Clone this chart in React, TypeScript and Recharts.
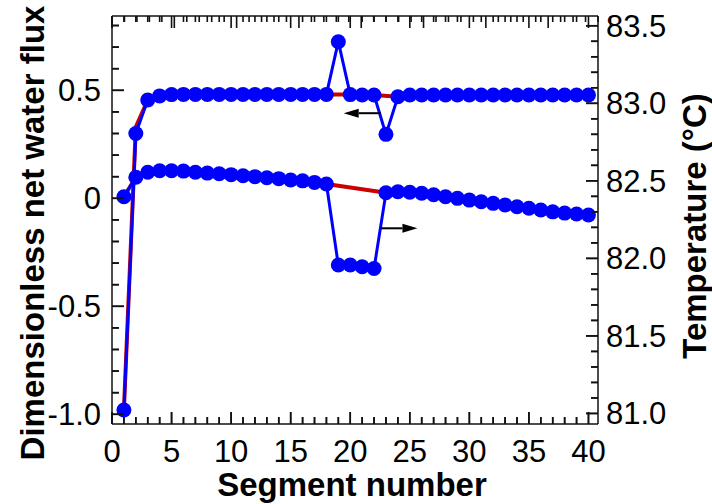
import React from 'react';
import { LineChart, Line, XAxis, YAxis, ReferenceLine } from 'recharts';

// segment numbers along the channel
const segments = [
  1, 2, 3, 4, 5, 6, 7, 8, 9, 10, 11, 12, 13, 14, 15, 16, 17, 18, 19, 20,
  21, 22, 23, 24, 25, 26, 27, 28, 29, 30, 31, 32, 33, 34, 35, 36, 37, 38, 39, 40,
];

// dimensionless net water flux (left axis)
const fluxMeasured = [
  -0.98, 0.3, 0.455, 0.474, 0.48, 0.481, 0.481, 0.481, 0.481, 0.481,
  0.481, 0.481, 0.481, 0.481, 0.481, 0.481, 0.481, 0.481, 0.725, 0.48,
  0.478, 0.478, 0.296, 0.47, 0.478, 0.478, 0.478, 0.478, 0.478, 0.478,
  0.478, 0.478, 0.478, 0.478, 0.478, 0.478, 0.478, 0.478, 0.478, 0.478,
];
const fluxModel: (number | null)[] = [
  -0.98, 0.33, 0.455, 0.474, 0.48, 0.481, 0.481, 0.481, 0.481, 0.481,
  0.481, 0.481, 0.481, 0.481, 0.481, 0.481, 0.481, 0.481, null, 0.48,
  0.478, 0.478, null, 0.47, 0.478, 0.478, 0.478, 0.478, 0.478, 0.478,
  0.478, 0.478, 0.478, 0.478, 0.478, 0.478, 0.478, 0.478, 0.478, 0.478,
];

// temperature in °C (right axis)
const tempMeasured = [
  82.397, 82.523, 82.555, 82.565, 82.565, 82.563, 82.555, 82.55, 82.546, 82.54,
  82.533, 82.527, 82.52, 82.514, 82.505, 82.5, 82.49, 82.48, 81.957, 81.957,
  81.946, 81.935, 82.423, 82.43, 82.426, 82.42, 82.41, 82.397, 82.387, 82.376,
  82.365, 82.355, 82.344, 82.333, 82.323, 82.312, 82.3, 82.292, 82.286, 82.28,
];
const tempModel: (number | null)[] = [
  82.397, 82.523, 82.555, 82.565, 82.565, 82.563, 82.555, 82.55, 82.546, 82.54,
  82.533, 82.527, 82.52, 82.514, 82.505, 82.5, 82.49, 82.48, null, null,
  null, null, 82.423, 82.43, 82.426, 82.42, 82.41, 82.397, 82.387, 82.376,
  82.365, 82.355, 82.344, 82.333, 82.323, 82.312, 82.3, 82.292, 82.286, 82.28,
];

// axis ticks: majors carry labels, the full lists give the short marks
const xMajor = [0, 5, 10, 15, 20, 25, 30, 35, 40];
const xAll = [0, 1, 2, 3, 4, 5, 6, 7, 8, 9, 10, 11, 12, 13, 14, 15, 16, 17, 18, 19, 20,
  21, 22, 23, 24, 25, 26, 27, 28, 29, 30, 31, 32, 33, 34, 35, 36, 37, 38, 39, 40];
const fluxMajor = [-1.0, -0.5, 0, 0.5];
const fluxMajorLabels = ['-1.0', '-0.5', '0', '0.5'];
const fluxAll = [-1.0, -0.9, -0.8, -0.7, -0.6, -0.5, -0.4, -0.3, -0.2, -0.1, 0,
  0.1, 0.2, 0.3, 0.4, 0.5, 0.6, 0.7, 0.8];
const tempMajor = [81.0, 81.5, 82.0, 82.5, 83.0, 83.5];
const tempAll = [81.0, 81.1, 81.2, 81.3, 81.4, 81.5, 81.6, 81.7, 81.8, 81.9, 82.0,
  82.1, 82.2, 82.3, 82.4, 82.5, 82.6, 82.7, 82.8, 82.9, 83.0, 83.1, 83.2, 83.3, 83.4, 83.5];

const data = segments.map((seg, i) => ({
  seg,
  flux: fluxMeasured[i],
  fluxFit: fluxModel[i],
  temp: tempMeasured[i],
  tempFit: tempModel[i],
}));

const X_DOMAIN: [number, number] = [0, 40.8];
const FLUX_DOMAIN: [number, number] = [-1.045, 0.844];
const TEMP_DOMAIN: [number, number] = [80.932, 83.563];

const BLUE = '#0000ff';
const RED = '#cc0000';
const INK = '#111';
const FONT = '"Liberation Sans", Arial, Helvetica, sans-serif';
const frameLine = { stroke: INK, strokeWidth: 1.5 };
const TW = 1.6; // tick mark thickness

const near = (list: number[], v: number) => list.some((m) => Math.abs(m - v) < 1e-6);

// axis ticks: filled rects for the inward marks, text for the majors
const bottomTick = (props: any) => {
  const x = Number(props.x);
  const y = Number(props.y);
  const v = Number(props.payload.value);
  const major = near(xMajor, v);
  const len = major ? 12 : 7;
  return (
    <g>
      <rect x={x - TW / 2} y={y - len} width={TW} height={len} fill={INK} />
      {major && (
        <text x={x} y={y + 38} textAnchor="middle" fontSize={31} fontFamily={FONT} fill="#000">
          {v}
        </text>
      )}
    </g>
  );
};

const topTick = (props: any) => {
  const x = Number(props.x);
  const y = Number(props.y);
  const len = near(xMajor, Number(props.payload.value)) ? 12 : 6;
  return <rect x={x - TW / 2} y={y} width={TW} height={len} fill={INK} />;
};

const leftTick = (props: any) => {
  const x = Number(props.x);
  const y = Number(props.y);
  const v = Number(props.payload.value);
  const idx = fluxMajor.findIndex((m) => Math.abs(m - v) < 1e-6);
  const len = idx >= 0 ? 12 : 7;
  return (
    <g>
      <rect x={x} y={y - TW / 2} width={len} height={TW} fill={INK} />
      {idx >= 0 && (
        <text x={x - 11} y={y + 11} textAnchor="end" fontSize={31} fontFamily={FONT} fill="#000">
          {fluxMajorLabels[idx]}
        </text>
      )}
    </g>
  );
};

const rightTick = (props: any) => {
  const x = Number(props.x);
  const y = Number(props.y);
  const v = Number(props.payload.value);
  const major = near(tempMajor, v);
  const len = major ? 12 : 7;
  return (
    <g>
      <rect x={x - len} y={y - TW / 2} width={len} height={TW} fill={INK} />
      {major && (
        <text x={x + 8} y={y + 11} textAnchor="start" fontSize={31} fontFamily={FONT} fill="#000">
          {v.toFixed(1)}
        </text>
      )}
    </g>
  );
};

// same marks again from reference segments spanning the plot (only the ends are painted)
const xTickShape = (len: number, topLen: number) => (p: any) => {
  const x = Number(p.x1);
  const top = Math.min(Number(p.y1), Number(p.y2));
  const bottom = Math.max(Number(p.y1), Number(p.y2));
  return (
    <g>
      <rect x={x - TW / 2} y={bottom - len} width={TW} height={len} fill={INK} />
      <rect x={x - TW / 2} y={top} width={TW} height={topLen} fill={INK} />
    </g>
  );
};

const leftTickShape = (len: number) => (p: any) => {
  const left = Math.min(Number(p.x1), Number(p.x2));
  return <rect x={left} y={Number(p.y1) - TW / 2} width={len} height={TW} fill={INK} />;
};

const rightTickShape = (len: number) => (p: any) => {
  const right = Math.max(Number(p.x1), Number(p.x2));
  return <rect x={right - len} y={Number(p.y1) - TW / 2} width={len} height={TW} fill={INK} />;
};

const arrowShape = (props: any) => {
  const { x1, y1, x2, y2 } = props;
  const dir = Math.sign(x2 - x1);
  const head = 15;
  return (
    <g>
      <line x1={x1} y1={y1} x2={x2 - dir * head} y2={y2} stroke="#000" strokeWidth={2} />
      <polygon
        points={`${x2},${y2} ${x2 - dir * head},${y2 - 4.5} ${x2 - dir * head},${y2 + 4.5}`}
        fill="#000"
      />
    </g>
  );
};

const leftTitle = () => (
  <text x={44} y={233} transform="rotate(-90 44 233)" textAnchor="middle" fontSize={33}
    fontWeight="bold" fontFamily={FONT} fill="#000">
    Dimensionless net water flux
  </text>
);

const rightTitle = () => (
  <text x={706} y={226} transform="rotate(-90 706 226)" textAnchor="middle" fontSize={33}
    fontWeight="bold" fontFamily={FONT} fill="#000">
    Temperature (°C)
  </text>
);

const bottomTitle = () => (
  <text x={352} y={496} textAnchor="middle" fontSize={33} fontWeight="bold" fontFamily={FONT} fill="#000">
    Segment number
  </text>
);

export default function App() {
  return (
    <div style={{ position: 'absolute', left: 0, top: 0, width: 712, height: 504, background: '#fff' }}>
      <LineChart width={712} height={504} data={data} margin={{ top: 15, right: 0, bottom: 0, left: 0 }}>
        <XAxis
          dataKey="seg"
          type="number"
          domain={X_DOMAIN}
          allowDataOverflow
          ticks={xAll}
          interval={0}
          height={80}
          tickSize={0}
          tickMargin={0}
          tickLine={false}
          axisLine={frameLine}
          tick={bottomTick}
          label={{ content: bottomTitle }}
        />
        <XAxis
          xAxisId="top"
          orientation="top"
          type="number"
          domain={X_DOMAIN}
          allowDataOverflow
          ticks={xAll}
          interval={0}
          height={1}
          tickSize={0}
          tickMargin={0}
          tickLine={false}
          axisLine={frameLine}
          tick={topTick}
        />
        <YAxis
          yAxisId="flux"
          orientation="left"
          type="number"
          domain={FLUX_DOMAIN}
          allowDataOverflow
          ticks={fluxAll}
          interval={0}
          width={112}
          tickSize={0}
          tickMargin={0}
          tickLine={false}
          axisLine={frameLine}
          tick={leftTick}
          label={{ content: leftTitle }}
        />
        <YAxis
          yAxisId="temp"
          orientation="right"
          type="number"
          domain={TEMP_DOMAIN}
          allowDataOverflow
          ticks={tempAll}
          interval={0}
          width={114}
          tickSize={0}
          tickMargin={0}
          tickLine={false}
          axisLine={frameLine}
          tick={rightTick}
          label={{ content: rightTitle }}
        />

        {xAll.map((v) => (
          <ReferenceLine
            key={`xt-${v}`}
            yAxisId="flux"
            ifOverflow="visible"
            segment={[{ x: v, y: FLUX_DOMAIN[0] }, { x: v, y: FLUX_DOMAIN[1] }]}
            shape={xTickShape(near(xMajor, v) ? 12 : 7, near(xMajor, v) ? 12 : 6)}
          />
        ))}
        {fluxAll.map((v) => (
          <ReferenceLine
            key={`ft-${v}`}
            yAxisId="flux"
            ifOverflow="visible"
            segment={[{ x: X_DOMAIN[0], y: v }, { x: X_DOMAIN[1], y: v }]}
            shape={leftTickShape(near(fluxMajor, v) ? 12 : 7)}
          />
        ))}
        {tempAll.map((v) => (
          <ReferenceLine
            key={`tt-${v}`}
            yAxisId="temp"
            ifOverflow="visible"
            segment={[{ x: X_DOMAIN[0], y: v }, { x: X_DOMAIN[1], y: v }]}
            shape={rightTickShape(near(tempMajor, v) ? 12 : 7)}
          />
        ))}

        <Line
          yAxisId="flux"
          dataKey="fluxFit"
          stroke={RED}
          strokeWidth={4}
          dot={false}
          activeDot={false}
          connectNulls
          isAnimationActive={false}
        />
        <Line
          yAxisId="temp"
          dataKey="tempFit"
          stroke={RED}
          strokeWidth={4}
          dot={false}
          activeDot={false}
          connectNulls
          isAnimationActive={false}
        />
        <Line
          yAxisId="flux"
          dataKey="flux"
          stroke={BLUE}
          strokeWidth={3}
          dot={{ r: 7.5, fill: BLUE, stroke: BLUE, strokeWidth: 0 }}
          activeDot={false}
          isAnimationActive={false}
        />
        <Line
          yAxisId="temp"
          dataKey="temp"
          stroke={BLUE}
          strokeWidth={3}
          dot={{ r: 7.5, fill: BLUE, stroke: BLUE, strokeWidth: 0 }}
          activeDot={false}
          isAnimationActive={false}
        />
        <ReferenceLine
          yAxisId="flux"
          segment={[{ x: 22.56, y: 0.394 }, { x: 19.45, y: 0.394 }]}
          shape={arrowShape}
        />
        <ReferenceLine
          yAxisId="temp"
          segment={[{ x: 22.56, y: 82.194 }, { x: 25.64, y: 82.194 }]}
          shape={arrowShape}
        />
      </LineChart>
    </div>
  );
}
